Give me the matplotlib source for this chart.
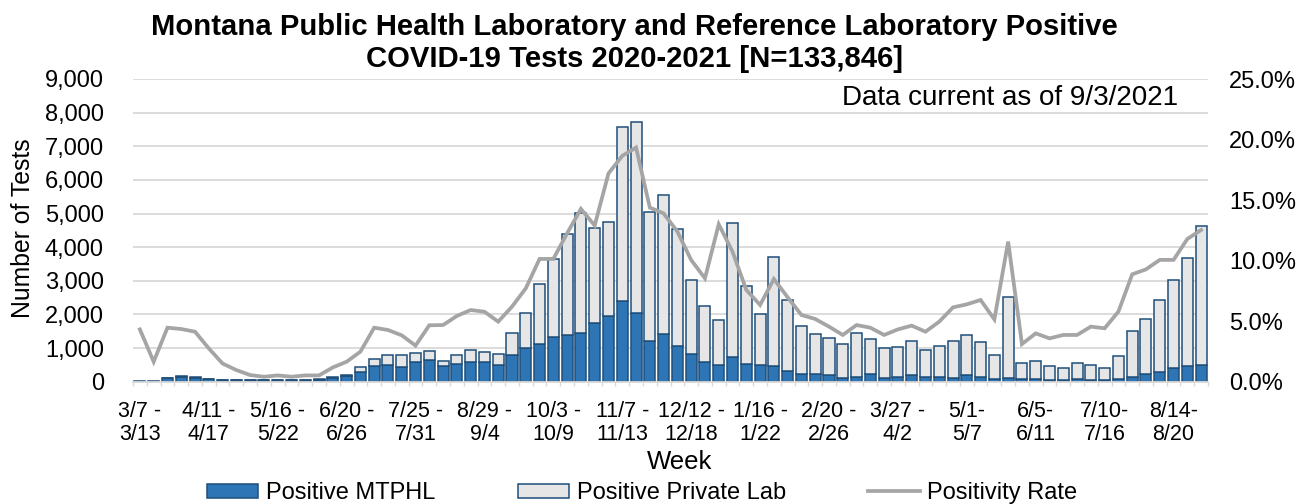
import matplotlib
matplotlib.use("Agg")
import matplotlib.pyplot as plt
import numpy as np
from matplotlib.patches import Patch
from matplotlib.lines import Line2D
from matplotlib.ticker import FuncFormatter, FixedLocator

plt.rcParams['font.family'] = ['Liberation Sans', 'DejaVu Sans']

# weekly positives, 3/7/2020 - 8/28/2021
mtphl = [5, 5, 100, 140, 110, 70, 50, 45, 45, 45, 45, 45, 50, 65, 110, 160,
         300, 470, 500, 430, 575, 635, 475, 515, 595, 595, 490, 803, 1012, 1131,
         1329, 1379, 1458, 1736, 1964, 2410, 2053, 1210, 1409, 1061, 833, 595, 486, 734,
         516, 496, 456, 327, 218, 238, 188, 110, 130, 238, 119, 139, 188, 149,
         149, 119, 188, 149, 89, 109, 69, 69, 50, 50, 69, 50, 50, 69,
         149, 218, 298, 407, 466, 506]
private_lab = [25, 25, 20, 30, 20, 10, 10, 5, 5, 5, 5, 5, 10, 15, 30, 50,
               140, 210, 300, 370, 275, 265, 140, 275, 335, 300, 345, 655, 1041, 1786,
               2331, 3025, 3552, 2827, 2778, 5169, 5675, 3849, 4156, 3492, 2193, 1667, 1349, 3978,
               2341, 1528, 3254, 2103, 1449, 1190, 1102, 1011, 1328, 1042, 873, 883, 1022, 793,
               922, 1091, 1211, 1031, 714, 2401, 486, 556, 416, 367, 477, 436, 367, 695,
               1369, 1637, 2132, 2619, 3224, 4137]
positivity = [4.32, 1.65, 4.46, 4.35, 4.13, 2.75, 1.5, 0.96, 0.55, 0.41, 0.52, 0.41, 0.52, 0.52, 1.18, 1.65,
              2.48, 4.46, 4.27, 3.83, 2.98, 4.66, 4.68, 5.43, 5.92, 5.78, 4.96, 6.2, 7.71, 10.14,
              10.14, 12.26, 14.27, 12.9, 17.2, 18.65, 19.34, 14.38, 13.9, 12.4, 10.05, 8.54, 13.0, 10.74,
              7.58, 6.34, 8.48, 6.97, 5.51, 5.18, 4.55, 3.86, 4.68, 4.46, 3.86, 4.32, 4.63, 4.13,
              4.96, 6.14, 6.39, 6.75, 5.15, 11.57, 3.11, 3.99, 3.58, 3.86, 3.86, 4.55, 4.41, 5.79,
              8.87, 9.28, 10.06, 10.06, 11.79, 12.53]
week_labels = ["3/7 -\n3/13", "4/11 -\n4/17", "5/16 -\n5/22", "6/20 -\n6/26", "7/25 -\n7/31",
               "8/29 -\n9/4", "10/3 -\n10/9", "11/7 -\n11/13", "12/12 -\n12/18", "1/16 -\n1/22",
               "2/20 -\n2/26", "3/27 -\n4/2", "5/1-\n5/7", "6/5-\n6/11", "7/10-\n7/16", "8/14-\n8/20"]
label_step = 5

BLUE = '#2E75B6'
EDGE = '#1F4E79'
LIGHT = '#E7E6E6'
GRAY_LINE = '#A5A5A5'
GRID = '#D9D9D9'

x = np.arange(len(mtphl))

fig = plt.figure(figsize=(13.14, 5.04), dpi=100)
ax = fig.add_axes([133/1314, 1 - 381.7/504, (1208 - 133)/1314, (381.7 - 79)/504])

ax.bar(x, mtphl, width=0.8, color=BLUE, edgecolor=EDGE, linewidth=1.1, zorder=2)
ax.bar(x, private_lab, width=0.8, bottom=mtphl, color=LIGHT, edgecolor=EDGE, linewidth=1.1, zorder=2)

ax.set_xlim(-0.5, len(x) - 0.5)
ax.set_ylim(0, 9000)
ax.set_yticks(np.arange(0, 9001, 1000))
ax.yaxis.set_major_formatter(FuncFormatter(lambda v, p: f"{int(v):,}"))
ax.grid(axis='y', color=GRID, linewidth=1.3, zorder=0)
ax.set_axisbelow(True)
for s in ['top', 'left', 'right']:
    ax.spines[s].set_visible(False)
ax.spines['bottom'].set_color(GRID)
ax.spines['bottom'].set_linewidth(1.3)

ax.set_xticks(x[::label_step])
ax.set_xticklabels(week_labels, fontsize=15.5, linespacing=1.1)
ax.xaxis.set_minor_locator(FixedLocator(np.arange(-0.5, len(x), 1)))
ax.tick_params(axis='x', which='major', length=0, pad=14)
ax.tick_params(axis='x', which='minor', length=3, color=GRID, width=1)
ax.tick_params(axis='y', length=0, pad=21, labelsize=17)

ax2 = ax.twinx()
ax2.plot(x, np.array(positivity) / 100, color=GRAY_LINE, linewidth=2.7, zorder=3,
         solid_joinstyle='miter')
ax2.set_ylim(0, 0.25)
ax2.set_yticks(np.arange(0, 0.2501, 0.05))
ax2.yaxis.set_major_formatter(FuncFormatter(lambda v, p: f"{v*100:.1f}%"))
ax2.tick_params(axis='y', length=0, pad=15, labelsize=17)
for s in ['top', 'left', 'right', 'bottom']:
    ax2.spines[s].set_visible(False)

fig.text(0.483, 1 - 35/504, "Montana Public Health Laboratory and Reference Laboratory Positive",
         ha='center', va='baseline', fontsize=21.1, fontweight='bold')
fig.text(0.483, 1 - 67/504, "COVID-19 Tests 2020-2021 [N=133,846]",
         ha='center', va='baseline', fontsize=21.1, fontweight='bold')
fig.text(1178/1314, 1 - 105/504, "Data current as of 9/3/2021", ha='right', va='baseline', fontsize=20)
fig.text(23/1314, 1 - 228/504, "Number of Tests", rotation=90, ha='center', va='center', fontsize=17.8)
fig.text(680/1314, 1 - 462/504, "Week", ha='center', va='center', fontsize=18.5)

handles = [Patch(facecolor=BLUE, edgecolor=EDGE, linewidth=1.1),
           Patch(facecolor=LIGHT, edgecolor=EDGE, linewidth=1.1),
           Line2D([0], [0], color=GRAY_LINE, linewidth=2.7)]
fig.legend(handles, ["Positive MTPHL", "Positive Private Lab", "Positivity Rate"],
           loc='center', bbox_to_anchor=(642/1314, 1 - 493/504), ncol=3, frameon=False,
           fontsize=17, handlelength=2.2, handleheight=0.55, handletextpad=0.3,
           columnspacing=3.5, borderaxespad=0, borderpad=0)

fig.savefig("out.png", dpi=100)
